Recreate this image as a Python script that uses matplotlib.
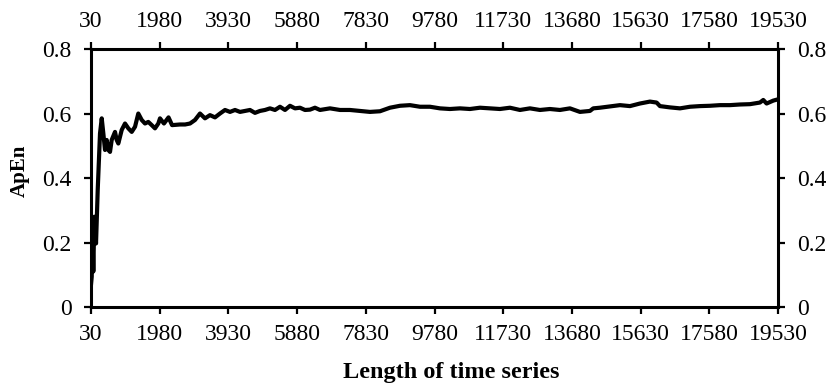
import matplotlib.pyplot as plt
import numpy as np

# Length of time series vs ApEn
length = [30, 50, 67, 95, 124, 172, 220, 285, 334, 380,
          427, 475, 521, 569, 617, 711, 759, 805, 901, 995,
          1089, 1185, 1279, 1372, 1469, 1563, 1656, 1753, 1846, 1940,
          1988, 2100, 2230, 2330, 2556, 2700, 2840, 2982, 3123, 3265,
          3407, 3549, 3691, 3833, 3975, 4117, 4259, 4401, 4542, 4684,
          4826, 4968, 5110, 5252, 5394, 5536, 5678, 5820, 5961, 6103,
          6245, 6387, 6529, 6813, 7097, 7380, 7664, 7948, 8232, 8516,
          8799, 9083, 9367, 9651, 9935, 10218, 10502, 10786, 11070, 11354,
          11637, 11921, 12205, 12489, 12773, 13056, 13340, 13624, 13908, 14192,
          14286, 14475, 14759, 15044, 15328, 15611, 15895, 16084, 16179, 16463,
          16747, 17031, 17314, 17598, 17882, 18166, 18450, 18734, 19017, 19112,
          19206, 19395, 19530]
apen = [0.07, 0.094, 0.26, 0.11, 0.28, 0.197, 0.363, 0.538, 0.585, 0.538,
        0.487, 0.518, 0.487, 0.481, 0.518, 0.543, 0.518, 0.507, 0.549, 0.569,
        0.554, 0.543, 0.559, 0.600, 0.580, 0.569, 0.574, 0.564, 0.554, 0.569,
        0.585, 0.569, 0.588, 0.564, 0.566, 0.566, 0.569, 0.580, 0.600, 0.585,
        0.595, 0.588, 0.600, 0.611, 0.605, 0.611, 0.605, 0.608, 0.611, 0.602,
        0.608, 0.611, 0.616, 0.611, 0.621, 0.611, 0.624, 0.616, 0.618, 0.611,
        0.612, 0.618, 0.611, 0.616, 0.611, 0.611, 0.608, 0.605, 0.607, 0.618,
        0.624, 0.626, 0.621, 0.621, 0.616, 0.614, 0.616, 0.614, 0.618, 0.616,
        0.614, 0.618, 0.611, 0.616, 0.611, 0.614, 0.611, 0.616, 0.605, 0.608,
        0.616, 0.618, 0.622, 0.626, 0.623, 0.631, 0.637, 0.634, 0.623, 0.619,
        0.616, 0.621, 0.623, 0.624, 0.626, 0.626, 0.628, 0.629, 0.634, 0.642,
        0.631, 0.640, 0.644]

xticks = [30, 1980, 3930, 5880, 7830, 9780, 11730, 13680, 15630, 17580, 19530]
yticks = [0, 0.2, 0.4, 0.6, 0.8]
ytick_labels = ["0", "0.2", "0.4", "0.6", "0.8"]

plt.rcParams['font.family'] = ['Liberation Serif', 'DejaVu Serif']

fig = plt.figure(figsize=(8.32, 3.9), dpi=100)
ax = fig.add_axes([0.1094, 0.2128, 0.8257, 0.6615])

ax.plot(length, apen, color='black', linewidth=3.0, solid_joinstyle='round')

ax.set_xlim(30, 19530)
ax.set_ylim(0, 0.8)
ax.set_xticks(xticks)
ax.set_xticklabels([str(t) for t in xticks])
ax.set_yticks(yticks)
ax.set_yticklabels(ytick_labels)

for s in ax.spines.values():
    s.set_linewidth(2.2)

ax.tick_params(axis='x', direction='out', length=5, width=1.6, labelsize=17,
               top=True, labeltop=True, pad=7)
ax.tick_params(axis='y', direction='out', length=5, width=1.6, labelsize=17,
               right=True, labelright=True, pad=9)

ax.set_xlabel("Length of time series", fontsize=17.5, fontweight='bold', va='center')
ax.xaxis.set_label_coords(0.524, -0.252)
ax.set_ylabel("ApEn", fontsize=15, fontweight='bold', va='center')
ax.yaxis.set_label_coords(-0.103, 0.527)

fig.savefig('out.png', dpi=100)
